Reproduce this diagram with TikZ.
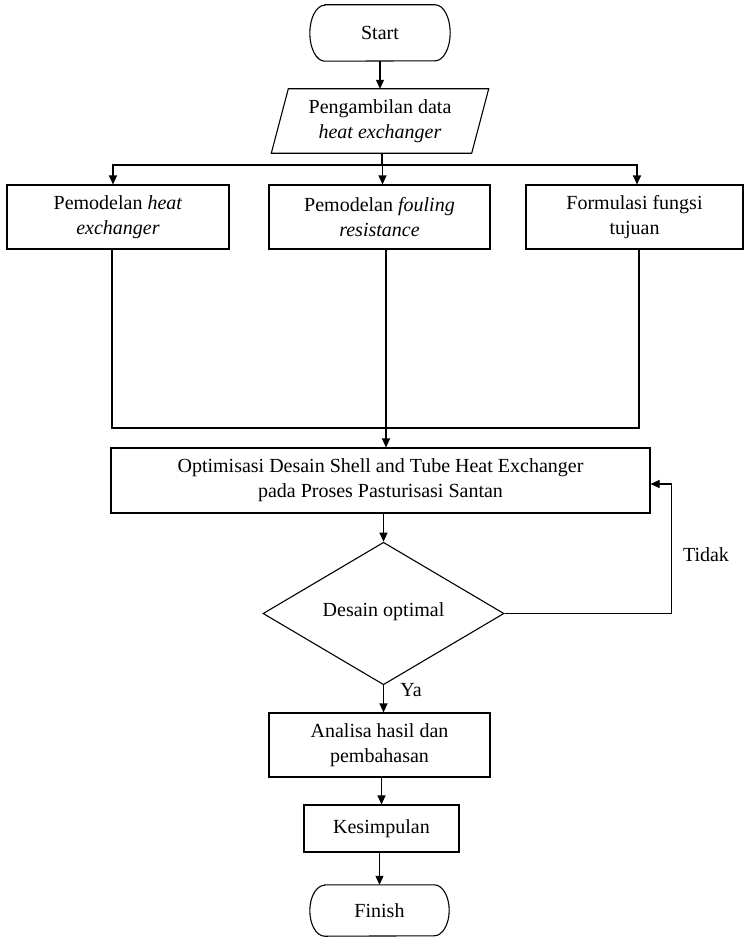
\documentclass[tikz,border=0pt]{standalone}
\usepackage{fontspec}
\setmainfont{Liberation Serif}
\usetikzlibrary{arrows.meta,shapes.geometric}
\begin{document}
\begin{tikzpicture}[x=1pt,y=-1pt,
  every node/.style={font=\fontsize{20}{25}\selectfont, inner sep=0pt},
  box/.style={draw, line width=1.1pt, align=center},
  ln/.style={line width=1.1pt},
  arr/.style={line width=1.1pt, -{Triangle[length=9pt,width=8pt]}},
]
\useasboundingbox (0,0) rectangle (744,939);

% Start
\node[minimum width=140pt, minimum height=56pt] (start) at (380,33) {Start};
\draw[ln] ([xshift=15pt]start.north west) -- ([xshift=-15pt]start.north east)
  arc[start angle=90, end angle=-90, x radius=15pt, y radius=28pt]
  -- ([xshift=15pt]start.south west)
  arc[start angle=270, end angle=90, x radius=15pt, y radius=28pt] -- cycle;

% Data (parallelogram)
\node[align=center, minimum width=200pt, minimum height=64pt] (data) at (380,121)
  {Pengambilan data\\\textit{heat exchanger}};
\draw[ln] ([xshift=8.5pt]data.north west) -- ([xshift=8.5pt]data.north east)
  -- ([xshift=-8.5pt]data.south east) -- ([xshift=-8.5pt]data.south west) -- cycle;

% Three boxes
\node[box, minimum width=222pt, minimum height=64pt] (b1) at (118,217)
  {Pemodelan \textit{heat}\\\textit{exchanger}};
\node[box, minimum width=221pt, minimum height=64pt] (b2) at (379.5,217)
  {Pemodelan \textit{fouling}\\\textit{resistance}};
\node[box, minimum width=217pt, minimum height=64pt] (b3) at (634.5,217)
  {Formulasi fungsi\\tujuan};

% Big box
\node[box, minimum width=539pt, minimum height=65pt] (big) at (380.5,480.5)
  {Optimisasi Desain Shell and Tube Heat Exchanger\\pada Proses Pasturisasi Santan};

% Decision
\node[draw, line width=1.1pt, shape=diamond, minimum width=241pt, minimum height=139pt] (dia) at (383.5,613.5)
  {\raisebox{7pt}{Desain optimal}};

% Lower boxes
\node[box, minimum width=221pt, minimum height=64pt] (ana) at (379.5,745)
  {Analisa hasil dan\\pembahasan};
\node[box, minimum width=155pt, minimum height=47pt] (kes) at (381.5,828.5) {Kesimpulan};

% Finish
\node[minimum width=139pt, minimum height=51pt] (fin) at (379.5,910.5) {Finish};
\draw[ln] ([xshift=15pt]fin.north west) -- ([xshift=-15pt]fin.north east)
  arc[start angle=90, end angle=-90, x radius=15pt, y radius=25.5pt]
  -- ([xshift=15pt]fin.south west)
  arc[start angle=270, end angle=90, x radius=15pt, y radius=25.5pt] -- cycle;

% Labels
\node (tidak) at (706,555) {Tidak};
\node (ya) at (411,690) {Ya};

% Connectors
\coordinate (br) at (382,165);
\coordinate (jn) at (386,428);
\draw[arr] (start.south) -- (data.north);
\draw[ln] (data.south -| br) -- (br);
\draw[arr] (br) -| ([xshift=-5pt]b1.north);
\draw[arr] (br) -| ([xshift=3pt]b2.north);
\draw[arr] (br) -| ([xshift=2.5pt]b3.north);
\draw[ln] ([xshift=-6pt]b1.south) |- (jn) -| ([xshift=4.5pt]b3.south);
\draw[arr] ([xshift=6.5pt]b2.south) -- ([xshift=6.5pt]b2.south |- big.north);
\draw[arr] (big.south -| dia.north) -- (dia.north);
\draw[arr] (dia.east) -- ++(167,0) |- ([yshift=-3.5pt]big.east);
\draw[arr] (dia.south) -- (dia.south |- ana.north);
\draw[arr] (ana.south -| kes.north) -- (kes.north);
\draw[arr] (kes.south -| fin.north) -- (fin.north);
\end{tikzpicture}
\end{document}
